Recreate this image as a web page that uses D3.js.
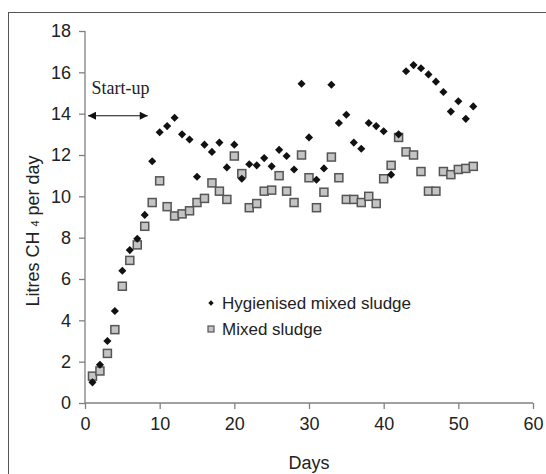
<!DOCTYPE html>
<html><head><meta charset="utf-8">
<script src="https://cdn.jsdelivr.net/npm/d3@7/dist/d3.min.js"></script>
<style>body{margin:0;background:#fff}svg{display:block}</style>
</head><body>
<svg id="c" width="546" height="474"></svg>
<script>
const days = d3.range(1, 53);
const hygienised = [1.0,1.85,3.0,4.45,6.4,7.4,7.95,9.1,11.7,13.1,13.4,13.8,13.0,12.75,10.95,12.5,12.15,12.6,11.4,12.5,10.85,11.55,11.5,11.85,11.45,12.25,11.95,11.3,15.45,12.85,10.8,11.35,15.4,13.55,13.95,12.6,12.3,13.55,13.4,13.15,11.05,13.0,16.05,16.35,16.2,15.9,15.55,15.05,14.1,14.6,13.75,14.35];
const mixed = [1.3,1.55,2.4,3.55,5.65,6.9,7.65,8.55,9.7,10.75,9.5,9.05,9.15,9.3,9.7,9.9,10.65,10.25,9.85,11.95,11.1,9.45,9.65,10.25,10.3,11.0,10.25,9.7,12.0,10.9,9.45,10.2,11.9,10.9,9.85,9.85,9.7,10.0,9.65,10.85,11.5,12.85,12.15,12.0,11.2,10.25,10.25,11.2,11.05,11.3,11.35,11.45];
const xTicks = [0,10,20,30,40,50,60];
const yTicks = [0,2,4,6,8,10,12,14,16,18];
const seriesNames = ["Hygienised mixed sludge", "Mixed sludge"];
const startup = {from: 0.4, to: 8.4, y: 13.9, label: "Start-up"};

const svg = d3.select("#c");
const x = d3.scaleLinear().domain([0,60]).range([85,533]);
const y = d3.scaleLinear().domain([0,18]).range([403,31]);
const axisCol = "#808080", textCol = "#222";
const font = "Arial, 'Liberation Sans', sans-serif";

// outer frame
svg.append("rect").attr("x",8.5).attr("y",12.5).attr("width",560).attr("height",500)
  .attr("fill","none").attr("stroke","#555").attr("stroke-width",1);

const gx = svg.append("g").attr("transform","translate(0,403)")
  .call(d3.axisBottom(x).tickValues(xTicks).tickSize(6).tickPadding(8));
const gy = svg.append("g").attr("transform","translate(85,0)")
  .call(d3.axisLeft(y).tickValues(yTicks).tickSize(6).tickPadding(8));
[gx,gy].forEach(g=>{
  g.selectAll("path,line").attr("stroke",axisCol).attr("stroke-width",1.3);
  g.select(".domain").attr("d", g===gx ? "M0.5,6V0H533.5V6".replace("0.5",x(0)) : null);
  g.selectAll("text").attr("fill",textCol).style("font-family",font).style("font-size","18px");
});
gx.select(".domain").attr("d",`M${x(0)},0H${x(60)}`);
gy.select(".domain").attr("d",`M0,${y(0)}V${y(18)}`);

svg.append("text").attr("x",(x(0)+x(60))/2).attr("y",469).attr("text-anchor","middle")
  .attr("fill",textCol).style("font-family",font).style("font-size","18px").text("Days");
const yl = svg.append("text").attr("transform","translate(39,231) rotate(-90)").attr("text-anchor","middle")
  .attr("fill",textCol).style("font-family",font).style("font-size","18px");
yl.append("tspan").text("Litres CH ");
yl.append("tspan").style("font-size","11px").text("4");
yl.append("tspan").text(" per day");

// start-up arrow
const defs = svg.append("defs");
defs.append("marker").attr("id","ah").attr("viewBox","0 0 10 10").attr("refX",10).attr("refY",5)
  .attr("markerWidth",16).attr("markerHeight",8).attr("markerUnits","userSpaceOnUse").attr("orient","auto-start-reverse")
  .append("path").attr("d","M0,0L10,5L0,10Z").attr("fill","#111");
svg.append("line").attr("x1",x(startup.from)).attr("x2",x(startup.to)).attr("y1",y(startup.y)).attr("y2",y(startup.y))
  .attr("stroke","#111").attr("stroke-width",1.2).attr("marker-start","url(#ah)").attr("marker-end","url(#ah)");
svg.append("text").attr("x",x(startup.from)+3.5).attr("y",y(startup.y)-22)
  .style("font-family","'Liberation Serif','Times New Roman',serif").style("font-size","18px").attr("fill","#222").text(startup.label);

// data
const sq = 8;
svg.append("g").selectAll("rect").data(days.map((d,i)=>[d,mixed[i]])).join("rect")
  .attr("x",d=>x(d[0])-sq/2).attr("y",d=>y(d[1])-sq/2).attr("width",sq).attr("height",sq)
  .attr("fill","#c4c4c4").attr("stroke","#555").attr("stroke-width",1.5);
const dm = d3.symbol().type(d3.symbolDiamond2).size(42);
svg.append("g").selectAll("path").data(days.map((d,i)=>[d,hygienised[i]])).join("path")
  .attr("transform",d=>`translate(${x(d[0])},${y(d[1])})`).attr("d",dm).attr("fill","#111");

// legend
const lg = svg.append("g");
lg.append("path").attr("transform","translate(211,303)").attr("d",d3.symbol().type(d3.symbolDiamond2).size(18)).attr("fill","#111");
lg.append("rect").attr("x",208).attr("y",326).attr("width",6).attr("height",6).attr("fill","#c4c4c4").attr("stroke","#555").attr("stroke-width",1.2);
lg.selectAll("text").data(seriesNames).join("text").attr("x",222).attr("y",(d,i)=>309+i*26)
  .attr("fill",textCol).style("font-family",font).style("font-size","17px").text(d=>d);
</script>
</body></html>
